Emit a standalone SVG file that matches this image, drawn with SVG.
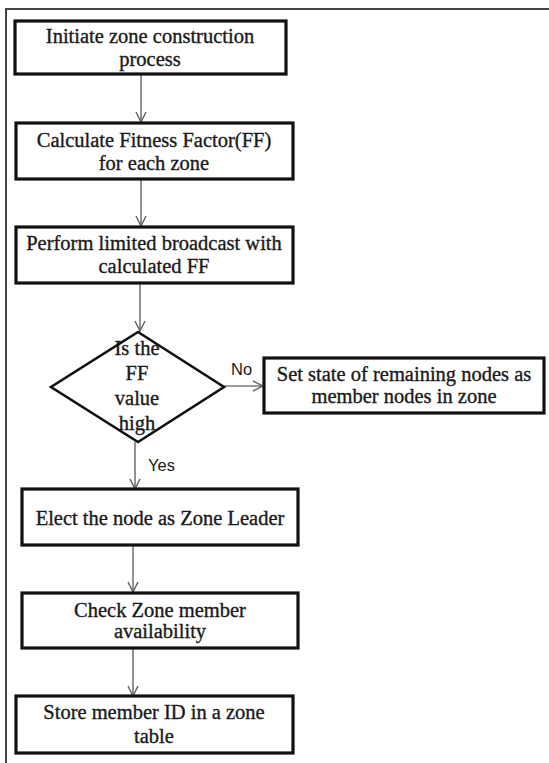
<svg xmlns="http://www.w3.org/2000/svg" width="549" height="763" viewBox="0 0 549 763">
<style>
.box{fill:#fff;stroke:#111;stroke-width:3.2}
.dia{fill:#fff;stroke:#111;stroke-width:2.6}
.t{font-family:"Liberation Serif","Times New Roman",serif;font-size:20.5px;fill:#1a1a1a;stroke:#1a1a1a;stroke-width:0.35;text-anchor:middle}
.lbl{font-family:"Liberation Sans",Arial,sans-serif;font-size:16.5px;fill:#1a1a1a}
.con{stroke:#777;stroke-width:1.6;fill:none;marker-end:url(#ah)}
.frame{stroke:#444;stroke-width:2;fill:none}
</style>
<defs>
<marker id="ah" viewBox="0 0 12 12" refX="11" refY="6" markerWidth="12" markerHeight="12" markerUnits="userSpaceOnUse" orient="auto">
<path d="M1,1 L11,6 L1,11" fill="none" stroke="#666" stroke-width="1.5"/>
</marker>
</defs>
<g id="frame">
<path class="frame" d="M6,763 L6,9 L549,9"/>
</g>
<g id="connectors">
<line class="con" x1="141" y1="74" x2="141" y2="122"/>
<line class="con" x1="141" y1="179" x2="141" y2="226"/>
<line class="con" x1="140" y1="283" x2="140" y2="331"/>
<line class="con" x1="224" y1="386" x2="263" y2="386"/>
<line class="con" x1="135" y1="442" x2="135" y2="489"/>
<line class="con" x1="133" y1="545" x2="133" y2="592"/>
<line class="con" x1="133" y1="648" x2="133" y2="696"/>
<text class="lbl" x="231" y="375">No</text>
<text class="lbl" x="148" y="471">Yes</text>
</g>
<g id="n1">
<rect class="box" x="15" y="21" width="271" height="53"/>
<text class="t" x="150" y="43">Initiate zone construction</text>
<text class="t" x="150" y="66">process</text>
</g>
<g id="n2">
<rect class="box" x="16" y="123" width="277" height="56"/>
<text class="t" x="154" y="147">Calculate Fitness Factor(FF)</text>
<text class="t" x="154" y="170">for each zone</text>
</g>
<g id="n3">
<rect class="box" x="16" y="227" width="277" height="56"/>
<text class="t" x="154" y="250">Perform limited broadcast with</text>
<text class="t" x="154" y="273">calculated FF</text>
</g>
<g id="n4">
<polygon class="dia" points="138,332 224,387 138,442 51,387"/>
<text class="t" x="137" y="355">Is the</text>
<text class="t" x="137" y="380">FF</text>
<text class="t" x="137" y="405">value</text>
<text class="t" x="137" y="430">high</text>
</g>
<g id="n5">
<rect class="box" x="264" y="358" width="280" height="55"/>
<text class="t" x="404" y="381">Set state of remaining nodes as</text>
<text class="t" x="404" y="403">member nodes in zone</text>
</g>
<g id="n6">
<rect class="box" x="22" y="489" width="276" height="56"/>
<text class="t" x="160" y="525">Elect the node as Zone Leader</text>
</g>
<g id="n7">
<rect class="box" x="22" y="593" width="276" height="55"/>
<text class="t" x="160" y="617">Check Zone member</text>
<text class="t" x="160" y="638">availability</text>
</g>
<g id="n8">
<rect class="box" x="16" y="696" width="277" height="57"/>
<text class="t" x="154" y="719">Store member ID in a zone</text>
<text class="t" x="154" y="743">table</text>
</g>
</svg>
